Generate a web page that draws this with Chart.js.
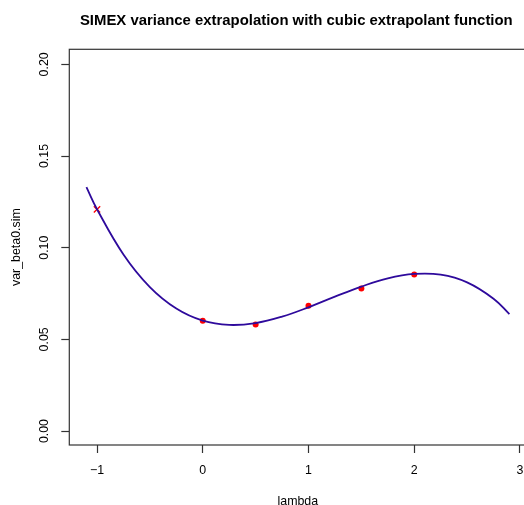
<!DOCTYPE html>
<html>
<head>
<meta charset="utf-8">
<script src="https://cdn.jsdelivr.net/npm/chart.js@4/dist/chart.umd.min.js"></script>
<style>
  html, body { margin: 0; padding: 0; background: #fff; overflow: hidden; }
  #chart { display: block; }
</style>
</head>
<body>
<canvas id="chart" width="534" height="505"></canvas>
<script>
// simulated variance at each lambda level
const lambdaSim = [0, 0.5, 1, 1.5, 2];
const varSim = [0.0602, 0.0581, 0.0683, 0.0778, 0.0854];

// SIMEX estimate at lambda = -1
const lambdaExtrap = [-1];
const varExtrap = [0.1209];

// fitted cubic extrapolant, sampled along lambda
const lambdaCurve = [-1.1, -1, -0.75, -0.5, -0.25, 0, 0.25, 0.5, 0.75, 1, 1.25, 1.5, 1.75, 2, 2.25, 2.5, 2.75, 2.9];
const varCurve = [0.1330, 0.1210, 0.0963, 0.0785, 0.0668, 0.0602, 0.0579, 0.0589, 0.0624, 0.0675, 0.0733, 0.0788, 0.0833, 0.0857, 0.0853, 0.0811, 0.0722, 0.0638];

// axis ticks
const xTicks = [-1, 0, 1, 2, 3];
const yTicks = [0, 0.05, 0.10, 0.15, 0.20];

const titleText = 'SIMEX variance extrapolation with cubic extrapolant function';
const fontFamily = '"Liberation Sans", Arial, Helvetica, sans-serif';
const axisColor = '#333';

const toPoints = (xs, ys) => xs.map((x, i) => ({ x: x, y: ys[i] }));

// box, main title and rotated y tick labels (drawn the way base R does)
const frame = {
    id: 'frame',
    afterDraw(chart) {
        const { ctx, chartArea } = chart;
        ctx.save();
        ctx.strokeStyle = axisColor;
        ctx.lineWidth = 1.2;
        ctx.strokeRect(chartArea.left, chartArea.top, chartArea.right - chartArea.left, chartArea.bottom - chartArea.top);

        ctx.fillStyle = '#000';
        ctx.font = 'bold 14.9px ' + fontFamily;
        ctx.textAlign = 'center';
        ctx.textBaseline = 'middle';
        ctx.fillText(titleText, (chartArea.left + chartArea.right) / 2 - 1.5, 20.5);

        const yScale = chart.scales.y;
        ctx.font = '12.4px ' + fontFamily;
        yScale.ticks.forEach(t => {
            const py = yScale.getPixelForValue(t.value);
            ctx.save();
            ctx.translate(45, py);
            ctx.rotate(-Math.PI / 2);
            ctx.fillText(t.value.toFixed(2), 0, 0);
            ctx.restore();
        });
        ctx.restore();
    }
};

const ctx = document.getElementById('chart').getContext('2d');
new Chart(ctx, {
    type: 'scatter',
    data: {
        datasets: [
            {
                type: 'line',
                label: 'cubic extrapolant',
                data: toPoints(lambdaCurve, varCurve),
                borderColor: '#2e0a9c',
                borderWidth: 1.8,
                pointRadius: 0,
                tension: 0.4,
                fill: false
            },
            {
                label: 'simulated',
                data: toPoints(lambdaSim, varSim),
                pointStyle: 'circle',
                pointRadius: 3,
                pointBackgroundColor: '#ff0000',
                pointBorderColor: '#ff0000',
                pointBorderWidth: 0
            },
            {
                label: 'SIMEX estimate',
                data: toPoints(lambdaExtrap, varExtrap),
                pointStyle: 'crossRot',
                pointRadius: 4.5,
                pointBorderColor: '#ff0000',
                pointBorderWidth: 1.3
            }
        ]
    },
    options: {
        responsive: false,
        animation: false,
        layout: { padding: { top: 49.3, left: 0, right: 0, bottom: 0 } },
        plugins: {
            legend: { display: false },
            tooltip: { enabled: false },
            title: { display: false }
        },
        scales: {
            x: {
                type: 'linear',
                min: -1.262,
                max: 3.06,
                afterBuildTicks: s => { s.ticks = xTicks.map(v => ({ value: v })); },
                afterFit: s => { s.height = 60; },
                grid: { drawOnChartArea: false, tickLength: 8, tickColor: axisColor, tickWidth: 1.2 },
                border: { display: false },
                ticks: {
                    padding: 10.5,
                    color: '#000',
                    font: { family: fontFamily, size: 12.4 },
                    maxRotation: 0,
                    autoSkip: false,
                    callback: v => (v < 0 ? '\u2212' + Math.abs(v) : String(v))
                },
                title: {
                    display: true,
                    text: 'lambda',
                    color: '#000',
                    font: { family: fontFamily, size: 12.4, lineHeight: 1 },
                    padding: { top: 0, bottom: -2.5 }
                }
            },
            y: {
                type: 'linear',
                min: -0.0076,
                max: 0.2082,
                afterBuildTicks: s => { s.ticks = yTicks.map(v => ({ value: v })); },
                afterFit: s => { s.width = 69.3; },
                grid: { drawOnChartArea: false, tickLength: 8, tickColor: axisColor, tickWidth: 1.2 },
                border: { display: false },
                ticks: { display: false },
                title: {
                    display: true,
                    text: 'var_beta0.sim',
                    color: '#000',
                    font: { family: fontFamily, size: 12.4, lineHeight: 1.2 },
                    padding: { top: 9.5, bottom: 0 }
                }
            }
        }
    },
    plugins: [frame]
});
</script>
</body>
</html>
